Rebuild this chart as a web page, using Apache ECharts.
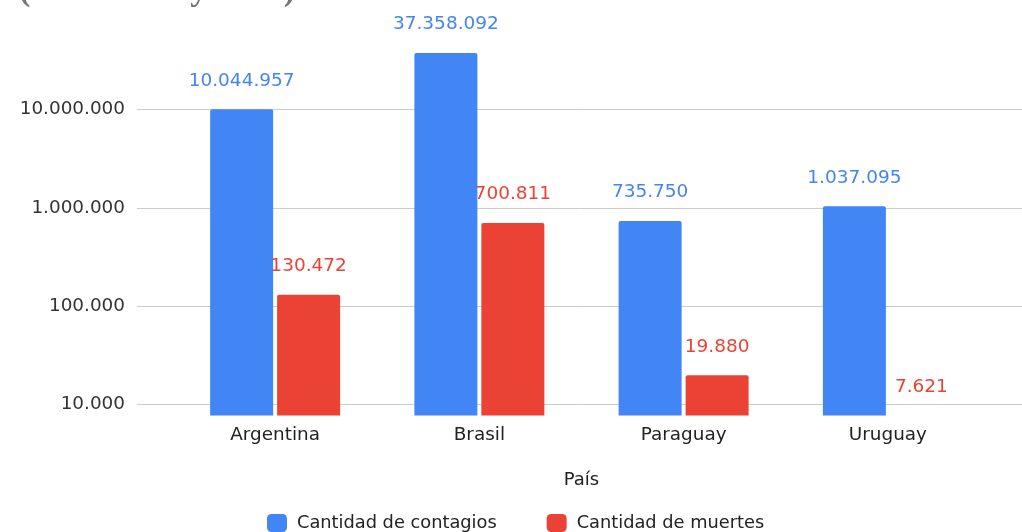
<!DOCTYPE html>
<html><head><meta charset="utf-8">
<script src="https://cdn.jsdelivr.net/npm/echarts@6/dist/echarts.min.js"></script>
<style>html,body{margin:0;padding:0;background:#fff;overflow:hidden}#c{width:1022px;height:532px}</style>
</head><body><div id="c"></div>
<script>
const categories = ['Argentina', 'Brasil', 'Paraguay', 'Uruguay'];
const contagios = [10044957, 37358092, 735750, 1037095];
const muertes = [130472, 700811, 19880, 7621];
const yTicks = [10000, 100000, 1000000, 10000000];
const seriesNames = ['Cantidad de contagios', 'Cantidad de muertes'];
const titleText = '(entre 2020 y 2023)';
const xName = 'País';

const Y_MIN = 7750, Y_MAX = 70794578;
const BLUE = '#4285F4', RED = '#EA4335';
const FONT = 'DejaVu Sans';
const fmt = n => String(n).replace(/\B(?=(\d{3})+(?!\d))/g, '.');

// values below the axis minimum are not visible as bars (clamped, transparent), but keep their label
function buildData(values) {
  return values.map(v => v < Y_MIN ? { value: Y_MIN, itemStyle: { color: 'rgba(0,0,0,0)' } } : v);
}

const chart = echarts.init(document.getElementById('c'), null, { renderer: 'canvas' });
const labelCfg = (color, values) => ({
  show: true, position: 'top', distance: 19, color: color,
  fontFamily: FONT, fontSize: 18.5, formatter: p => fmt(values[p.dataIndex])
});
chart.setOption({
  animation: false,
  backgroundColor: '#fff',
  title: {
    text: titleText, left: 14, top: -31,
    textStyle: { fontFamily: 'Liberation Serif', fontWeight: 'bold', fontSize: 34, color: '#757575' }
  },
  legend: {
    left: 262, top: 509, itemWidth: 20, itemHeight: 18, itemGap: 50, icon: 'roundRect',
    textStyle: { fontFamily: FONT, fontSize: 17.8, color: '#222', padding: [0, 0, 0, 5] },
    data: seriesNames
  },
  grid: [
    { left: 137, right: 0, top: 25.8, bottom: 116.5 },
    { left: 173, right: 32, top: 25.8, bottom: 116.5 }
  ],
  xAxis: [
    { gridIndex: 0, type: 'value', min: 0, max: 1, show: false },
    {
      gridIndex: 1, type: 'category', data: categories,
      axisLine: { show: false }, axisTick: { show: false },
      axisLabel: { fontFamily: FONT, fontSize: 18.4, color: '#222', margin: 11 },
      name: xName, nameLocation: 'middle', nameGap: 56,
      nameTextStyle: { fontFamily: FONT, fontSize: 18, color: '#222' }
    }
  ],
  yAxis: [
    {
      gridIndex: 0, type: 'log', min: Y_MIN, max: Y_MAX,
      axisLine: { show: false },
      axisTick: { show: false, customValues: yTicks },
      axisLabel: { customValues: yTicks, formatter: v => fmt(v), fontFamily: FONT, fontSize: 18.4, color: '#333', margin: 12 },
      splitLine: { show: true, lineStyle: { color: '#cccccc', width: 1 } }
    },
    { gridIndex: 1, type: 'log', min: Y_MIN, max: Y_MAX, show: false, splitLine: { show: false } }
  ],
  series: [
    {
      name: seriesNames[0], type: 'bar', xAxisIndex: 1, yAxisIndex: 1,
      data: buildData(contagios), barWidth: 63, barGap: '6.3%',
      itemStyle: { color: BLUE, borderRadius: [2, 2, 0, 0] },
      label: labelCfg(BLUE, contagios), clip: true
    },
    {
      name: seriesNames[1], type: 'bar', xAxisIndex: 1, yAxisIndex: 1,
      data: buildData(muertes), barWidth: 63, barGap: '6.3%',
      itemStyle: { color: RED, borderRadius: [2, 2, 0, 0] },
      label: labelCfg(RED, muertes), clip: true
    }
  ]
});
</script></body></html>
